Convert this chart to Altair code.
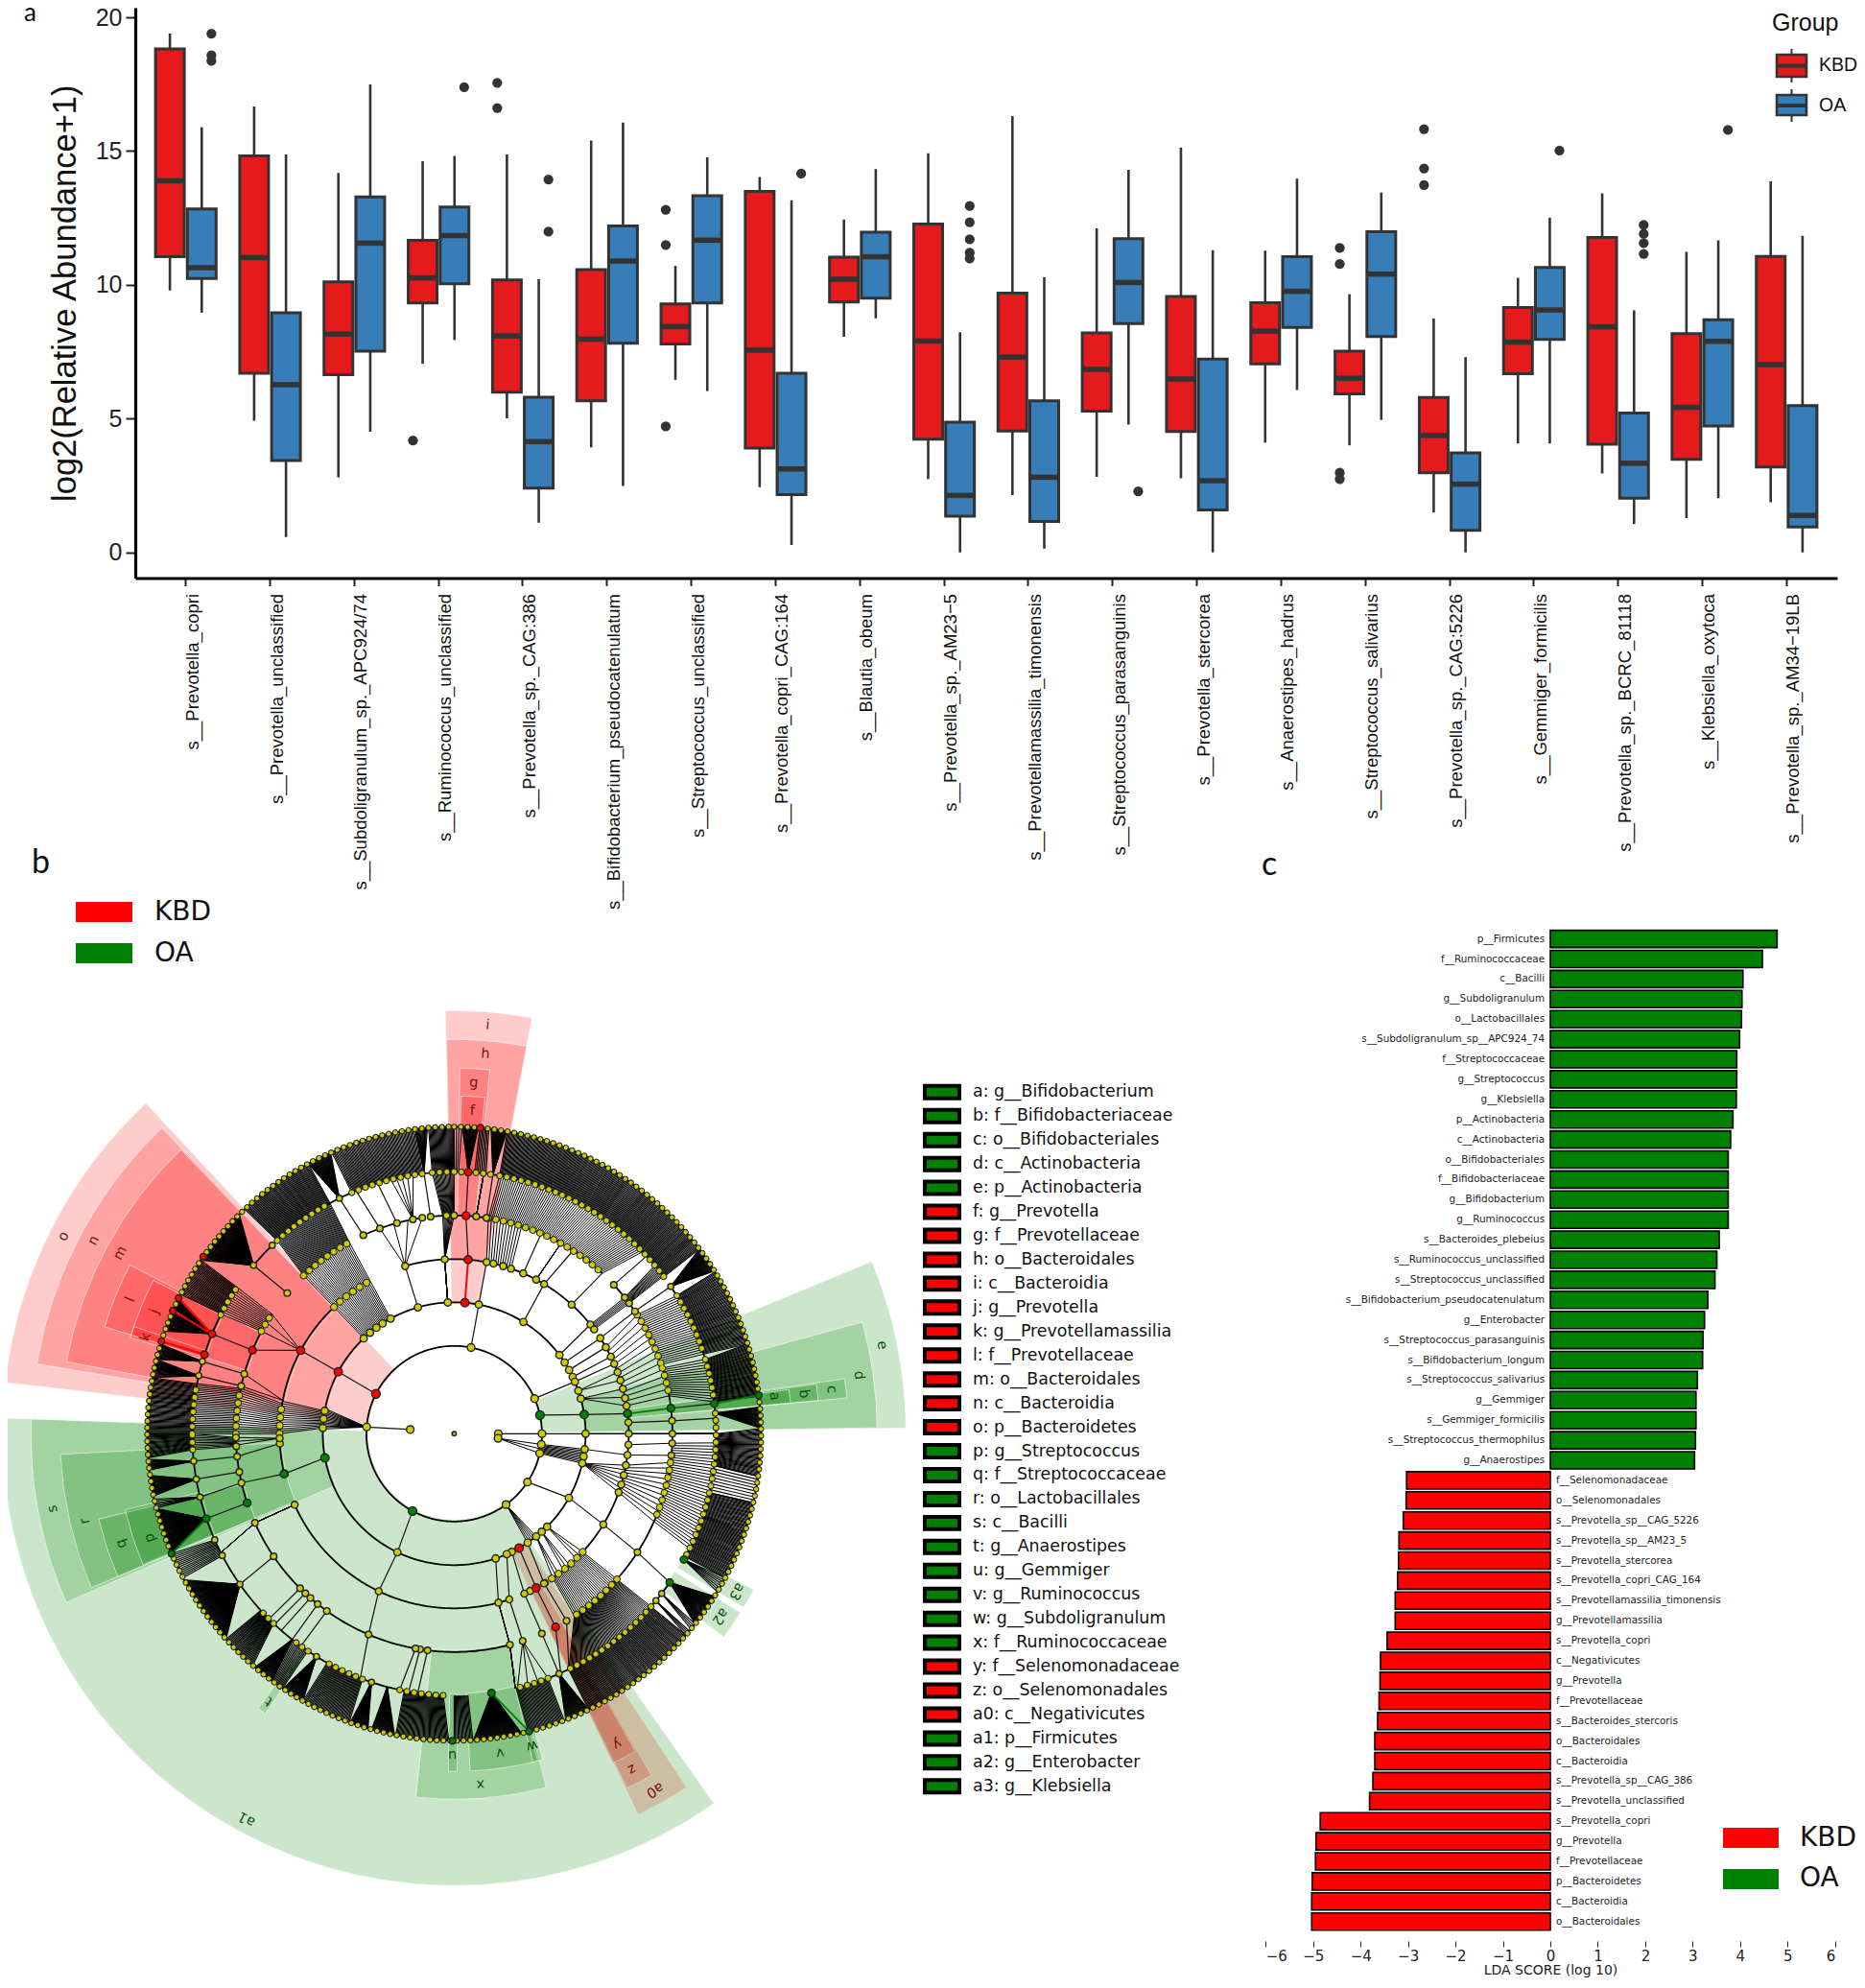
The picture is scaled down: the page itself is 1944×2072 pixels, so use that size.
import math
import altair as alt
import pandas as pd

alt.data_transformers.disable_max_rows()

W, H = 1928, 2056

# ---------- panel a: boxplots ----------
SPECIES = ["s__Prevotella_copri", "s__Prevotella_unclassified", "s__Subdoligranulum_sp._APC924/74",
           "s__Ruminococcus_unclassified", "s__Prevotella_sp._CAG:386", "s__Bifidobacterium_pseudocatenulatum",
           "s__Streptococcus_unclassified", "s__Prevotella_copri_CAG:164", "s__Blautia_obeum",
           "s__Prevotella_sp._AM23\u22125", "s__Prevotellamassilia_timonensis", "s__Streptococcus_parasanguinis",
           "s__Prevotella_stercorea", "s__Anaerostipes_hadrus", "s__Streptococcus_salivarius",
           "s__Prevotella_sp._CAG:5226", "s__Gemmiger_formicilis", "s__Prevotella_sp._BCRC_81118",
           "s__Klebsiella_oxytoca", "s__Prevotella_sp._AM34\u221219LB"]
# each row: low whisker, Q1, median, Q3, high whisker
KBD_BOX = [[9.79, 11.05, 13.89, 18.82, 19.39], [4.92, 6.70, 11.02, 14.82, 16.67], [2.81, 6.64, 8.16, 10.11, 14.18],
           [7.05, 9.32, 10.26, 11.66, 14.62], [5.01, 5.99, 8.09, 10.18, 14.87], [3.93, 5.67, 7.97, 10.57, 15.39],
           [6.45, 7.79, 8.44, 9.29, 10.71], [2.44, 3.90, 7.56, 13.49, 14.03], [8.06, 9.36, 10.21, 11.04, 12.44],
           [2.74, 4.23, 7.90, 12.27, 14.92], [2.14, 4.54, 7.30, 9.69, 16.31], [2.82, 5.28, 6.84, 8.20, 12.11],
           [2.77, 4.52, 6.48, 9.57, 15.13], [4.10, 7.05, 8.27, 9.33, 11.28], [4.00, 5.93, 6.51, 7.52, 9.65],
           [1.49, 2.98, 4.37, 5.79, 8.74], [4.07, 6.68, 7.86, 9.15, 10.26], [2.95, 4.04, 8.43, 11.77, 13.42],
           [1.28, 3.48, 5.42, 8.18, 11.23], [1.87, 3.19, 7.02, 11.06, 13.87]]
OA_BOX = [[8.96, 10.24, 10.64, 12.84, 15.89], [0.57, 3.43, 6.27, 8.96, 14.87], [4.51, 7.52, 11.56, 13.29, 17.49],
          [7.94, 10.04, 11.84, 12.91, 14.82], [1.11, 2.40, 4.14, 5.80, 10.21], [2.48, 7.82, 10.89, 12.20, 16.07],
          [6.03, 9.32, 11.67, 13.33, 14.77], [0.28, 2.16, 3.12, 6.70, 13.16], [8.75, 9.50, 11.05, 11.97, 14.33],
          [0.0, 1.35, 2.13, 4.87, 8.23], [0.14, 1.16, 2.81, 5.67, 10.28], [4.78, 8.55, 10.09, 11.73, 14.30],
          [0.0, 1.59, 2.68, 7.23, 11.30], [6.07, 8.41, 9.76, 11.05, 13.97], [4.95, 8.07, 10.40, 11.99, 13.45],
          [0.0, 0.82, 2.55, 3.72, 7.30], [4.07, 7.96, 9.06, 10.65, 12.51], [1.06, 2.03, 3.33, 5.21, 9.05],
          [2.03, 4.72, 7.89, 8.70, 11.66], [0.0, 0.95, 1.38, 5.49, 11.83]]
KBD_OUT = {3: [4.18], 4: [17.55, 16.61], 6: [12.81, 11.49, 4.71], 14: [11.38, 10.78, 2.98, 2.74], 15: [15.82, 14.35, 13.73]}
OA_OUT = {0: [19.39, 18.58, 18.37], 3: [17.39], 4: [13.94, 11.99], 7: [14.16], 9: [12.95, 12.34, 11.70, 11.2, 10.99],
          11: [2.28], 16: [15.02], 17: [12.24, 11.91, 11.56, 11.16], 18: [15.79]}

# ---------- panel c: LDA bars ----------
LDA_NAMES = ["p__Firmicutes", "f__Ruminococcaceae", "c__Bacilli", "g__Subdoligranulum", "o__Lactobacillales",
             "s__Subdoligranulum_sp__APC924_74", "f__Streptococcaceae", "g__Streptococcus", "g__Klebsiella",
             "p__Actinobacteria", "c__Actinobacteria", "o__Bifidobacteriales", "f__Bifidobacteriaceae",
             "g__Bifidobacterium", "g__Ruminococcus", "s__Bacteroides_plebeius", "s__Ruminococcus_unclassified",
             "s__Streptococcus_unclassified", "s__Bifidobacterium_pseudocatenulatum", "g__Enterobacter",
             "s__Streptococcus_parasanguinis", "s__Bifidobacterium_longum", "s__Streptococcus_salivarius",
             "g__Gemmiger", "s__Gemmiger_formicilis", "s__Streptococcus_thermophilus", "g__Anaerostipes",
             "f__Selenomonadaceae", "o__Selenomonadales", "s__Prevotella_sp__CAG_5226", "s__Prevotella_sp__AM23_5",
             "s__Prevotella_stercorea", "s__Prevotella_copri_CAG_164", "s__Prevotellamassilia_timonensis",
             "g__Prevotellamassilia", "s__Prevotella_copri", "c__Negativicutes", "g__Prevotella", "f__Prevotellaceae",
             "s__Bacteroides_stercoris", "o__Bacteroidales", "c__Bacteroidia", "s__Prevotella_sp__CAG_386",
             "s__Prevotella_unclassified", "s__Prevotella_copri", "g__Prevotella", "f__Prevotellaceae",
             "p__Bacteroidetes", "c__Bacteroidia", "o__Bacteroidales"]
LDA_VALUES = [4.78, 4.47, 4.06, 4.04, 4.03, 3.99, 3.93, 3.93, 3.92, 3.85, 3.80, 3.75, 3.75, 3.75, 3.75, 3.56, 3.51,
              3.47, 3.32, 3.25, 3.22, 3.21, 3.10, 3.07, 3.07, 3.06, 3.04,
              -3.03, -3.04, -3.10, -3.19, -3.20, -3.22, -3.27, -3.27, -3.44, -3.58, -3.59, -3.61, -3.64, -3.70, -3.70,
              -3.74, -3.81, -4.85, -4.94, -4.95, -5.02, -5.03, -5.03]

# ---------- panel b: key ----------
CLADE_KEY = ["a: g__Bifidobacterium", "b: f__Bifidobacteriaceae", "c: o__Bifidobacteriales", "d: c__Actinobacteria",
             "e: p__Actinobacteria", "f: g__Prevotella", "g: f__Prevotellaceae", "h: o__Bacteroidales",
             "i: c__Bacteroidia", "j: g__Prevotella", "k: g__Prevotellamassilia", "l: f__Prevotellaceae",
             "m: o__Bacteroidales", "n: c__Bacteroidia", "o: p__Bacteroidetes", "p: g__Streptococcus",
             "q: f__Streptococcaceae", "r: o__Lactobacillales", "s: c__Bacilli", "t: g__Anaerostipes",
             "u: g__Gemmiger", "v: g__Ruminococcus", "w: g__Subdoligranulum", "x: f__Ruminococcaceae",
             "y: f__Selenomonadaceae", "z: o__Selenomonadales", "a0: c__Negativicutes", "a1: p__Firmicutes",
             "a2: g__Enterobacter", "a3: g__Klebsiella"]
CLADE_GROUP = ["OA"] * 5 + ["KBD"] * 10 + ["OA"] * 9 + ["KBD"] * 3 + ["OA"] * 3

# ---------- panel b: cladogram, read in degrees clockwise from the top ----------
RINGS = [46, 91.5, 137, 182, 227.5, 273, 320]
# label, group, ring of the node, start angle, end angle, outer radius, label radius, label angle
WEDGES = [("o", "KBD", 1, -83.5, -43, 471, 456, -63.2), ("n", "KBD", 2, -80.5, -43.7, 441, 426, -61.8),
          ("i", "KBD", 2, -1.2, 10.6, 441, 427, 4.7), ("a0", "KBD", 2, 146.7, 154.2, 441, 426, 150.6),
          ("m", "KBD", 3, -79.5, -43.9, 411, 395.5, -61.6), ("h", "KBD", 3, -1.1, 10.6, 411, 397, 4.7),
          ("z", "KBD", 3, 150, 154, 411, 395.4, 152.1), ("l", "KBD", 4, -73, -62.5, 381, 365, -67.5),
          ("g", "KBD", 4, 0.9, 5.6, 381, 366, 3.2), ("y", "KBD", 4, 150.3, 154.3, 381, 365, 152.3),
          ("j", "KBD", 5, -73, -63, 352, 337, -67.8), ("k", "KBD", 5, -73.5, -71.5, 352, 337, -72.6),
          ("f", "KBD", 5, 1.2, 5.2, 352, 337, 3.2),
          ("a1", "OA", 1, 144.9, 272, 471, 456, 208.3), ("e", "OA", 1, 67.6, 89.3, 471, 455, 78.3),
          ("s", "OA", 2, -113.5, -88, 441, 425.5, -100.6), ("d", "OA", 2, 74.7, 89.2, 441, 426, 81.8),
          ("r", "OA", 3, -113, -93, 411, 395, -103.3), ("c", "OA", 3, 82, 84.8, 411, 396, 83.3),
          ("q", "OA", 4, -113, -103.5, 381, 365, -108.3), ("b", "OA", 4, 82.2, 84.8, 381, 366.6, 83.5),
          ("x", "OA", 4, 165.4, 186, 381, 366.4, 175.7), ("p", "OA", 5, -112.8, -103, 352, 335, -108.9),
          ("a", "OA", 5, 82.5, 84.8, 352, 336, 83.3), ("u", "OA", 5, 179.5, 181, 352, 335, 180.3),
          ("v", "OA", 5, 165.7, 177.3, 352, 336, 171.8), ("w", "OA", 5, 164.8, 166.5, 352, 335, 166),
          ("t", "OA", 5, 214, 215.5, 352, 339, 214.7), ("a2", "OA", 5, 122, 127, 352, 336, 124.5),
          ("a3", "OA", 5, 117.5, 121, 352, 337, 119.2)]

# ring arcs: ring, start, end
ARCS = [(1, 0, 360), (2, 0, 360), (3, -90, -43.5), (3, -16.3, 53.3), (3, 56.8, 146), (3, 161.6, 246), (3, 256.7, 270),
        (4, -90, -56.7), (4, -24.6, -8.4), (4, -6.2, 42.7), (4, 47, 71.5), (4, 72.5, 146.6), (4, 165.2, 246),
        (4, 251.5, 270), (5, -90, -56), (5, -50, -44), (5, -42.5, 53.3), (5, 55.8, 118.7), (5, 124.6, 166.3),
        (5, 182.4, 270), (6, 0, 360)]
# runs of packed nodes: ring, start, end
NODE_RUNS = [(3, -90, -79.3), (3, -43.5, -28.8), (3, 132.6, 149), (4, -90, -78), (4, -62, -56.7), (4, -43.6, -28.7),
             (4, 9, 42.7), (4, 57, 71.5), (4, 72.5, 80), (4, 97.6, 113.7), (4, 131.8, 146.6), (5, -90, -79),
             (5, -63, -56), (5, -42.5, -28.3), (5, -23, -6.6), (5, -4.8, 8), (5, 10, 53.3), (5, 58.2, 72.3),
             (5, 73.5, 83), (5, 85.5, 118), (5, 131.3, 154.1), (5, 159, 166.3), (5, 182.4, 193), (5, 200.5, 209),
             (5, 213.9, 218.2), (5, 223.6, 227.6), (5, 266.5, 270), (6, 0, 360)]
# single nodes: ring -> angles
NODES_Y = {0: [-84.5, 90, 96],
           1: [11.1, 66.4, 123.4, 143.8, 274.4, 90, 97, 102.9],
           2: [-80, -83.5, -87.5, -43.5, -39.8, -36.3, -33, -28.9, -16, -2.8, 10.8, 31.8, 53.2, 57.2, 61, 64.4, 66.7,
               70.9, 74.5, 90, 96.8, 100, 103, 119.2, 135, 138.2, 141.4, 146, 154, 156.4, 161.6, 205.6],
           3: [-16.3, -3.1, 10.7, 13, 16.3, 19, 23.3, 28, 31, 42.3, 51.3, 53.3, 56.8, 60.3, 63.8, 66.4, 69.4, 72.2,
               75.1, 78.2, 80.8, 86.3, 90, 93.6, 97, 100.4, 103.7, 106.9, 109.6, 121.3, 149, 154.2, 156.3, 161.6,
               165.3, 205.6, 246, 266.8, 268.5],
           4: [-74.1, -77.4, -49.9, -24.6, -19.9, -15.2, -10.9, -8.4, -6.2, -2, 0, 5.8, 8.5, 47, 51.4, 53.3, 55.9,
               86.6, 90, 92.5, 95.7, 122.9, 149, 156.3, 161.7, 165.2, 187, 189, 190.2, 203.1, 215.7, 218.7, 221.2,
               223, 224.9, 235.8, 245.9, 257, 259.9, 264, 266.7, 269],
           5: [-74, -77.2, -50, -44, -26, 55.8, 127.6, 129.6, 156.4, 198.4, 211.7, 234.9, 242.3, 246.1, 256, 260, 264]}
NODES_G = {1: [77.8, 208.3], 2: [81.6, 259.4], 3: [83.4, 256.7], 4: [83.3, 251.5],
           5: [83.4, 118.7, 124.6, 171.8, 251.1], 6: [82.8, 165.9, 180.3, 247]}
NODES_R = {1: [297], 2: [-61.9, 4.7, 150.4], 3: [-61.5, 4.6, 152], 4: [-67.5, 3.1, 152.3],
           5: [-67.6, -72.4, 3.1], 6: [-54.8, -63.8, -66.4, -72.5, 4.9]}

# branches: from ring, from start, from end, to ring, to start, to end, lines
BRANCHES = [
    (0, -84.5, -84.5, 1, -85.6, -85.6, 1), (0, 90, 90, 1, 90, 90, 1), (0, 96, 96, 1, 97, 102.9, 3),
    (1, -63, -63, 2, -61.9, -61.9, 1), (1, -85.6, -85.6, 2, -79, -88, 14), (1, 11.1, 11.1, 2, 10.8, 10.8, 1),
    (1, 66.4, 66.4, 2, 66.7, 66.7, 1), (1, 77.8, 77.8, 2, 81.6, 81.6, 1), (1, 90, 90, 2, 90, 90, 1),
    (1, 97, 102.9, 2, 96.8, 103, 10), (1, 123.4, 123.4, 2, 119.2, 119.2, 1), (1, 143.8, 143.8, 2, 141.4, 146, 6),
    (1, 208.3, 208.3, 2, 205.6, 205.6, 1),
    (2, -61.9, -61.9, 3, -61.5, -61.5, 1), (2, -80, -87.5, 3, -79.3, -90, 15), (2, -43.5, -28.9, 3, -43.5, -28.8, 25),
    (2, -16, -16, 3, -16.3, -16.3, 1), (2, -2.8, -2.8, 3, -3.1, -3.1, 8), (2, 10.8, 10.8, 3, 10.7, 10.7, 1),
    (2, 31.8, 31.8, 3, 31, 31, 1), (2, 53.2, 53.2, 3, 51.3, 51.3, 1), (2, 57.2, 57.2, 3, 56.8, 56.8, 1),
    (2, 61, 61, 3, 60.3, 60.3, 1), (2, 64.4, 64.4, 3, 63.8, 63.8, 1), (2, 66.7, 66.7, 3, 66.4, 66.4, 1),
    (2, 70.9, 70.9, 3, 69.4, 72.2, 2), (2, 74.5, 74.5, 3, 75.1, 80.8, 3), (2, 81.6, 81.6, 3, 83.4, 83.4, 1),
    (2, 90, 90, 3, 90, 90, 3), (2, 96.8, 96.8, 3, 97, 97, 1), (2, 103, 103, 3, 100.4, 109.6, 7),
    (2, 119.2, 119.2, 3, 121.3, 121.3, 1), (2, 135, 135, 3, 132.6, 135.7, 3), (2, 138.2, 138.2, 3, 138.7, 141.3, 3),
    (2, 141.4, 141.4, 3, 143.3, 145.6, 3), (2, 146, 146, 3, 149, 149, 1), (2, 150.4, 150.4, 3, 152, 152, 1),
    (2, 154, 154, 3, 156.3, 156.3, 1), (2, 156.4, 156.4, 3, 161.6, 161.6, 1), (2, 161.6, 161.6, 3, 165.3, 165.3, 1),
    (2, 205.6, 205.6, 3, 205.6, 205.6, 1), (2, 259.4, 259.4, 3, 256.7, 256.7, 1),
    (3, -61.5, -61.5, 4, -67.5, -67.5, 1), (3, -61.5, -61.5, 4, -62, -56.7, 3), (3, -80, -90, 4, -78, -90, 20),
    (3, -79, -79, 4, -74.1, -77.4, 2), (3, -43.5, -28.8, 4, -43.6, -28.7, 30), (3, -16.3, -16.3, 4, -19.9, -8.4, 4),
    (3, -3.1, -3.1, 4, -3, 0, 10), (3, 4.6, 4.6, 4, 3.1, 3.1, 1), (3, 10.7, 19, 4, 9, 18, 12),
    (3, 23.3, 23.3, 4, 23.5, 23.5, 1), (3, 28, 28, 4, 29.3, 29.3, 6), (3, 31, 31, 4, 33, 33, 1),
    (3, 42.3, 42.3, 4, 42.7, 42.7, 1), (3, 51.3, 53.3, 4, 51.4, 53.3, 6), (3, 56.8, 56.8, 4, 55.9, 55.9, 1),
    (3, 60.3, 80.8, 4, 57, 80, 14), (3, 86.3, 86.3, 4, 86.6, 86.6, 1), (3, 90, 90, 4, 90, 90, 4),
    (3, 93.6, 97, 4, 92.5, 95.7, 2), (3, 100.4, 109.6, 4, 97.6, 113.7, 12), (3, 121.3, 121.3, 4, 122.9, 122.9, 1),
    (3, 132.6, 145.6, 4, 131.8, 146.6, 28), (3, 149, 149, 4, 149, 149, 1), (3, 152, 152, 4, 152.3, 152.3, 1),
    (3, 156.3, 156.3, 4, 156.3, 156.3, 1), (3, 161.6, 161.6, 4, 161.7, 161.7, 1), (3, 165.3, 165.3, 4, 165.2, 165.2, 5),
    (3, 205.6, 205.6, 4, 203.1, 203.1, 1), (3, 246, 246, 4, 245.9, 245.9, 6), (3, 256.7, 256.7, 4, 257, 257, 1),
    (3, 266.8, 266.8, 4, 264, 264, 1), (3, 268.5, 268.5, 4, 267, 269, 3),
    (4, -67.5, -67.5, 5, -67.6, -67.6, 1), (4, -74.1, -74.1, 5, -74, -74, 1), (4, -77.4, -77.4, 5, -77.2, -77.2, 1),
    (4, -78, -90, 5, -79, -90, 30), (4, -62, -56.7, 5, -62.8, -56, 14), (4, -49.9, -49.9, 5, -50, -50, 1),
    (4, -43.6, -28.7, 5, -42.5, -28.3, 62), (4, -24.6, -24.6, 5, -26, -26, 1), (4, -19.9, -19.9, 5, -22, -22, 1),
    (4, -15.2, -15.2, 5, -17, -17, 1), (4, -10.9, -10.9, 5, -14, -9, 5), (4, -6.2, -6.2, 5, -6.6, -6.6, 1),
    (4, -3, 0, 5, -4.8, 0, 18), (4, 3.1, 3.1, 5, 3.1, 3.1, 1), (4, 5.8, 5.8, 5, 6.5, 6.5, 8), (4, 8.5, 8.5, 5, 8.5, 8.5, 1),
    (4, 9, 42.7, 5, 10, 46, 75), (4, 47, 47, 5, 47.3, 47.3, 1), (4, 51.4, 53.3, 5, 50, 53, 12),
    (4, 55.9, 55.9, 5, 55.8, 55.8, 1), (4, 57, 71.5, 5, 58.2, 72.3, 28), (4, 72.5, 80, 5, 73.5, 83, 16),
    (4, 83.3, 83.3, 5, 83.4, 83.4, 1), (4, 86.6, 86.6, 5, 86.6, 86.6, 1), (4, 90, 90, 5, 90, 90, 8),
    (4, 92.5, 113.7, 5, 92, 116, 35), (4, 122.9, 122.9, 5, 124.6, 124.6, 1), (4, 131.8, 146.6, 5, 131.3, 154, 70),
    (4, 149, 149, 5, 154, 154, 1), (4, 152.3, 152.3, 5, 156, 156, 1), (4, 156.3, 156.3, 5, 156.4, 156.4, 1),
    (4, 161.7, 161.7, 5, 159, 166, 4), (4, 165.2, 165.2, 5, 166.5, 166.5, 8), (4, 187, 187, 5, 188, 188, 1),
    (4, 189, 189, 5, 190, 190, 1), (4, 190.2, 190.2, 5, 192, 192, 1), (4, 203.1, 203.1, 5, 201, 201, 1),
    (4, 215.7, 215.7, 5, 215.8, 215.8, 1), (4, 218.7, 218.7, 5, 218.2, 218.2, 1), (4, 221.2, 221.2, 5, 221.3, 221.3, 1),
    (4, 223, 223, 5, 223.3, 223.3, 1), (4, 224.9, 224.9, 5, 225, 225, 1), (4, 235.8, 235.8, 5, 234.9, 234.9, 1),
    (4, 245.9, 245.9, 5, 243, 243, 6), (4, 251.5, 251.5, 5, 251.1, 251.1, 1), (4, 257, 257, 5, 256, 256, 1),
    (4, 259.9, 259.9, 5, 260, 260, 1), (4, 264, 264, 5, 264, 264, 1), (4, 266.7, 269, 5, 266.5, 270, 10),
    (5, -50, -50, 6, -55.6, -44.4, 70), (5, -62.8, -56, 6, -63, -55.6, 30), (5, -67.6, -67.6, 6, -64, -66, 18),
    (5, -67.6, -67.6, 6, -66.7, -70.5, 22), (5, -74, -74, 6, -73, -76, 18), (5, -77.2, -77.2, 6, -76, -79.5, 20),
    (5, -79, -90, 6, -79.5, -90, 50), (5, -42.5, -28.3, 6, -43, -28.4, 70), (5, -26, -26, 6, -28.4, -23.7, 30),
    (5, -23, -7, 6, -23.5, -7.3, 65), (5, -6.6, -6.6, 6, -7.3, -5, 14), (5, -4.8, 0, 6, -4.8, 0, 25),
    (5, 0, 1, 6, 0, 1.4, 4), (5, 3.1, 3.1, 6, 1.5, 4.5, 20), (5, 4.5, 7, 6, 4.8, 6.5, 8), (5, 8.5, 8.5, 6, 6.9, 9.9, 20),
    (5, 10, 53.2, 6, 10, 53, 190), (5, 55.8, 55.8, 6, 53, 58, 35), (5, 58.2, 72.3, 6, 58.2, 73, 65),
    (5, 73.5, 83, 6, 73, 83, 50), (5, 85.5, 85.5, 6, 85, 89, 25), (5, 90, 97, 6, 89, 98, 40), (5, 97, 103, 6, 98, 103, 10),
    (5, 103, 118, 6, 103, 118, 70), (5, 118.7, 118.7, 6, 118, 121, 8), (5, 124.6, 124.6, 6, 122, 128.3, 40),
    (5, 127.6, 127.6, 6, 128.3, 129.5, 4), (5, 129.6, 129.6, 6, 130, 131, 4), (5, 131.3, 154.1, 6, 131, 154, 100),
    (5, 156.4, 156.4, 6, 154, 158.7, 30), (5, 159, 166.3, 6, 159, 166, 30), (5, 171.8, 171.8, 6, 167.3, 176.4, 60),
    (5, 177, 180, 6, 176.5, 180, 15), (5, 182.4, 191, 6, 181, 191, 45), (5, 194.8, 194.8, 6, 191.2, 195.6, 30),
    (5, 198.4, 198.4, 6, 196.3, 199.8, 25), (5, 200.5, 209, 6, 200, 209.5, 40), (5, 211.7, 211.7, 6, 209.5, 213.9, 30),
    (5, 214, 218, 6, 214, 216.4, 12), (5, 218.2, 218.2, 6, 216.4, 220.5, 28), (5, 223.6, 227.6, 6, 221, 228, 30),
    (5, 234.9, 234.9, 6, 228, 241.6, 90), (5, 242.3, 246.1, 6, 242, 247, 15), (5, 251.1, 251.1, 6, 247, 255.9, 60),
    (5, 256, 256, 6, 256, 257.7, 6), (5, 260, 260, 6, 258.3, 262.2, 25), (5, 264, 264, 6, 263.2, 265.2, 14),
    (5, 266.5, 270, 6, 265.5, 270, 22)]
RED_BRANCHES = [(2, 4.7, 3, 4.6), (5, -67.6, 6, -63.8), (5, -67.6, 6, -66.4), (5, -72.4, 6, -72.5)]
GREEN_BRANCHES = [(3, 83.4, 4, 83.3), (5, 83.4, 6, 82.8), (5, 251.1, 6, 247), (5, 171.8, 6, 165.9)]

COL = {"KBD": "#FF0000", "OA": "#008000"}
DARK = {"KBD": "#7a0d0d", "OA": "#0c4f0c"}
BOX_COL = {"KBD": "#E41A1C", "OA": "#377EB8"}
INK = "#333333"
YELLOW = "#CCCC00"

def qs(dom, rng):
    return alt.Scale(domain=dom, range=rng, nice=False, zero=False)

# page coordinates, used for keys and panel letters
PX = qs([8, 8 + W], [0, W])
PY = qs([8, 8 + H], [0, H])
# cladogram scales: pixels around the centre, y downward
CXP, CYP = 473.4 - 8, 1494.3 - 8
CX = qs([-500, 500], [CXP - 500, CXP + 500])
CY = qs([-500, 500], [CYP - 500, CYP + 500])

def polar(ang, r):
    t = math.radians(ang)
    return r * math.sin(t), -r * math.cos(t)

layers = []

# ---- panel a ----
AX = alt.Scale(domain=SPECIES, range=[133, 1907], paddingInner=0, paddingOuter=0.1)
AY = qs([-0.96, 20.36], [594.5, 0])
OFF = alt.Scale(domain=["KBD", "OA"], paddingInner=0, paddingOuter=0.323)
rows, outs = [], []
for g, box, out in (("KBD", KBD_BOX, KBD_OUT), ("OA", OA_BOX, OA_OUT)):
    for i, b in enumerate(box):
        rows.append(dict(sp=SPECIES[i], g=g, lo=b[0], q1=b[1], med=b[2], q3=b[3], hi=b[4], c=BOX_COL[g]))
    for i, vs in out.items():
        for v in vs:
            outs.append(dict(sp=SPECIES[i], g=g, v=v))
adf, odf = pd.DataFrame(rows), pd.DataFrame(outs)
x_a_axis = alt.Axis(orient="bottom", offset=-(H - 594.5), title=None, labelAngle=-90, labelFontSize=18.5,
                    labelFont="Liberation Sans", labelColor="#111", labelLimit=500, labelOverlap=False,
                    labelPadding=8, labelOffset=7, domainColor="black", domainWidth=3.2, tickColor="#222",
                    tickWidth=2, tickSize=8, grid=False)
y_a_axis = alt.Axis(orient="left", offset=-133, values=[0, 5, 10, 15, 20], title="log2(Relative Abundance+1)",
                    titleFont="Liberation Sans", titleFontSize=34.5, titleFontWeight="normal", titleColor="#111",
                    titlePadding=14, labelFont="Liberation Sans", labelFontSize=25, labelColor="#222", labelPadding=4,
                    domainColor="black", domainWidth=3.2, tickColor="#222", tickWidth=2, tickSize=10, grid=False)
ax_none = alt.X("sp:N", scale=AX, sort=SPECIES, axis=None)
xo = alt.XOffset("g:N", scale=OFF)
layers.append(alt.Chart(adf).mark_rule(color=INK, strokeWidth=2.6).encode(
    x=alt.X("sp:N", scale=AX, sort=SPECIES, axis=x_a_axis), xOffset=xo,
    y=alt.Y("lo:Q", scale=AY, axis=y_a_axis), y2="hi:Q"))
layers.append(alt.Chart(adf).mark_bar(size=30, stroke=INK, strokeWidth=3).encode(
    x=ax_none, xOffset=xo, y=alt.Y("q1:Q", scale=AY, axis=None), y2="q3:Q", color=alt.Color("c:N", scale=None)))
layers.append(alt.Chart(adf).mark_tick(size=31, thickness=5.5, color=INK, opacity=1).encode(
    x=ax_none, xOffset=xo, y=alt.Y("med:Q", scale=AY, axis=None)))
layers.append(alt.Chart(odf).mark_circle(size=105, color=INK, opacity=1).encode(
    x=ax_none, xOffset=xo, y=alt.Y("v:Q", scale=AY, axis=None)))

# ---- panel c ----
CB_X = qs([-6, 6], [1319.3 - 8, 1912.7 - 8])
CB_Y = alt.Scale(domain=list(range(50)), range=[960.15, 2005.15], paddingInner=0.14, paddingOuter=0.07)
ldf = pd.DataFrame(dict(row=range(50), name=LDA_NAMES, v=LDA_VALUES,
                        zero=[0] * 50, c=[COL["OA"] if v > 0 else COL["KBD"] for v in LDA_VALUES]))
layers.append(alt.Chart(ldf).mark_bar(stroke="black", strokeWidth=1.6).encode(
    x=alt.X("v:Q", scale=CB_X, axis=alt.Axis(
        orient="bottom", offset=-(H - 2015), values=list(range(-6, 7)), domain=False, grid=False, tickColor="#222",
        tickSize=6, tickWidth=1, labelFont="DejaVu Sans", labelFontSize=15, labelColor="#222", labelPadding=2,
        format="d", title="LDA SCORE (log 10)", titleFont="DejaVu Sans", titleFontSize=14,
        titleFontWeight="normal", titleColor="#222", titlePadding=0)),
    x2="zero:Q", y=alt.Y("row:O", scale=CB_Y, axis=None), color=alt.Color("c:N", scale=None)))
ldf["tx"] = [-0.12 if v > 0 else 0.12 for v in LDA_VALUES]
for sign, al in ((1, "right"), (-1, "left")):
    layers.append(alt.Chart(ldf[ldf.v * sign > 0]).mark_text(
        align=al, baseline="middle", font="DejaVu Sans", fontSize=10.4, color="#222").encode(
        x=alt.X("tx:Q", scale=CB_X, axis=None), y=alt.Y("row:O", scale=CB_Y, axis=None), text="name:N"))

# ---- panel b: wedges ----
wd = []
for (lab, g, ring, a0, a1, rout, rl, al) in WEDGES:
    wd.append(dict(t=math.radians(a0), t2=math.radians(a1), r=rout, r2=RINGS[ring] - 2, c=COL[g]))
wdf = pd.DataFrame(wd)
layers.append(alt.Chart(wdf).mark_arc(fillOpacity=0.2, stroke="white", strokeOpacity=0.55, strokeWidth=1).encode(
    x=alt.X(datum=0, scale=CX, axis=None), y=alt.Y(datum=0, scale=CY, axis=None),
    theta=alt.Theta("t:Q", scale=None), theta2="t2:Q",
    radius=alt.Radius("r:Q", scale=None), radius2="r2:Q", color=alt.Color("c:N", scale=None)))

# ---- panel b: tree ----
def branch_rows(rec):
    f, a0, a1, t, b0, b1, n = rec
    for k in range(n):
        u = k / (n - 1) if n > 1 else 0
        x1, y1 = polar(a0 + (a1 - a0) * u, RINGS[f])
        x2, y2 = polar(b0 + (b1 - b0) * u, RINGS[t])
        yield dict(x1=x1, y1=y1, x2=x2, y2=y2)

def rule_layer(recs, **mk):
    df = pd.DataFrame(recs)
    return alt.Chart(df).mark_rule(**mk).encode(
        x=alt.X("x1:Q", scale=CX, axis=None), y=alt.Y("y1:Q", scale=CY, axis=None), x2="x2:Q", y2="y2:Q")

outer_fans = [r for b in BRANCHES if b[6] > 1 and b[3] == 6 for r in branch_rows(b)]
inner_fans = [r for b in BRANCHES if b[6] > 1 and b[3] < 6 for r in branch_rows(b)]
singles = [r for b in BRANCHES if b[6] == 1 for r in branch_rows(b)]
layers.append(rule_layer(outer_fans, color="black", strokeWidth=1.1))
layers.append(rule_layer(inner_fans, color="black", strokeWidth=1.0))
layers.append(rule_layer(singles, color="#111", strokeWidth=1.2))

def coloured(lst):
    return [r for (f, a, t, b) in lst for r in branch_rows((f, a, a, t, b, b, 1))]

layers.append(rule_layer(coloured(RED_BRANCHES), color="#FF0000", strokeWidth=2))
layers.append(rule_layer(coloured(GREEN_BRANCHES), color="#008000", strokeWidth=1.8))

def arc_points(items):
    pts = []
    for i, (ring, a0, a1) in enumerate(items):
        steps = max(2, int(abs(a1 - a0) * 1.5))
        for k in range(steps + 1):
            x, y = polar(a0 + (a1 - a0) * k / steps, RINGS[ring])
            pts.append(dict(id=i, o=k, x=x, y=y))
    return pd.DataFrame(pts)

def line_layer(df, **mk):
    return alt.Chart(df).mark_line(**mk).encode(
        x=alt.X("x:Q", scale=CX, axis=None), y=alt.Y("y:Q", scale=CY, axis=None),
        detail="id:N", order="o:Q")

layers.append(line_layer(arc_points(ARCS), color="black", strokeWidth=1.8))
for ring, gap, w in ((3, 8.5, 8), (4, 8, 7.6), (5, 7.6, 7), (6, 7, 6.2)):
    runs = arc_points([r for r in NODE_RUNS if r[0] == ring])
    layers.append(line_layer(runs, color="#222", strokeWidth=w, strokeDash=[0.01, gap], strokeCap="round"))
    layers.append(line_layer(runs, color=YELLOW, strokeWidth=w - 2, strokeDash=[0.01, gap], strokeCap="round"))

SIZES = {0: 62, 1: 62, 2: 56, 3: 52, 4: 46, 5: 40, 6: 30}
nd = []
for tbl, c, bump in ((NODES_Y, YELLOW, 0), (NODES_G, COL["OA"], 18), (NODES_R, COL["KBD"], 18)):
    for ring, angs in tbl.items():
        for a in angs:
            x, y = polar(a, RINGS[ring])
            nd.append(dict(x=x, y=y, c=c, s=SIZES[ring] + bump))
nd.append(dict(x=0, y=0, c="#B8B800", s=20))
ndf = pd.DataFrame(nd)
layers.append(alt.Chart(ndf).mark_point(filled=True, shape="circle", stroke="#222", strokeWidth=1.4, opacity=1).encode(
    x=alt.X("x:Q", scale=CX, axis=None), y=alt.Y("y:Q", scale=CY, axis=None),
    color=alt.Color("c:N", scale=None), size=alt.Size("s:Q", scale=None)))

lb = []
for (lab, g, ring, a0, a1, rout, rl, al) in WEDGES:
    x, y = polar(al, rl)
    lb.append(dict(x=x, y=y, t=lab, a=al % 360, c=DARK[g]))
layers.append(alt.Chart(pd.DataFrame(lb)).mark_text(font="DejaVu Sans", fontSize=14.5, align="center", baseline="middle").encode(
    x=alt.X("x:Q", scale=CX, axis=None), y=alt.Y("y:Q", scale=CY, axis=None), text="t:N",
    angle=alt.Angle("a:Q", scale=None), color=alt.Color("c:N", scale=None)))

# ---- panel b: clade key ----
KY = alt.Scale(domain=list(range(30)), range=[1138.3 - 12.475 - 8, 1861.8 + 12.475 - 8], paddingInner=0.48, paddingOuter=0.24)
kdf = pd.DataFrame(dict(row=range(30), t=CLADE_KEY, c=[COL[g] for g in CLADE_GROUP], x0=[964] * 30, x1=[1000] * 30, tx=[1014] * 30))
layers.append(alt.Chart(kdf).mark_bar(stroke="black", strokeWidth=4).encode(
    x=alt.X("x0:Q", scale=PX, axis=None), x2="x1:Q", y=alt.Y("row:O", scale=KY, axis=None), color=alt.Color("c:N", scale=None)))
layers.append(alt.Chart(kdf).mark_text(align="left", baseline="middle", font="DejaVu Sans", fontSize=17.4, color="#111").encode(
    x=alt.X("tx:Q", scale=PX, axis=None), y=alt.Y("row:O", scale=KY, axis=None), text="t:N"))

# ---- keys and panel letters ----
RECTS = [(79, 138, 940, 961, COL["KBD"]), (79, 138, 983, 1004, COL["OA"]),
         (1796, 1854, 1905, 1926, COL["KBD"]), (1796, 1854, 1948, 1969, COL["OA"])]
rdf = pd.DataFrame(RECTS, columns=["x", "x2", "y", "y2", "c"])
layers.append(alt.Chart(rdf).mark_rect().encode(
    x=alt.X("x:Q", scale=PX, axis=None), x2="x2:Q", y=alt.Y("y:Q", scale=PY, axis=None), y2="y2:Q", color=alt.Color("c:N", scale=None)))
TEXTS = [("KBD", 161, 951, 28, "DejaVu Sans"), ("OA", 161, 994, 28, "DejaVu Sans"),
         ("KBD", 1876, 1916, 28, "DejaVu Sans"), ("OA", 1876, 1958, 28, "DejaVu Sans"),
         ("Group", 1847, 24, 25, "Liberation Sans"), ("KBD", 1896, 68, 19.5, "Liberation Sans"),
         ("OA", 1896, 110, 19.5, "Liberation Sans"), ("a", 25, 14, 26, "Lato"), ("b", 33, 900, 34, "Lato"),
         ("c", 1315, 902, 34, "Lato")]
for font, size in sorted({(t[4], t[3]) for t in TEXTS}):
    sub = pd.DataFrame([t[:3] for t in TEXTS if t[4] == font and t[3] == size], columns=["t", "x", "y"])
    layers.append(alt.Chart(sub).mark_text(align="left", baseline="middle", font=font, fontSize=size, color="#111").encode(
        x=alt.X("x:Q", scale=PX, axis=None), y=alt.Y("y:Q", scale=PY, axis=None), text="t:N"))

# box-plot key
KEY_WHISK = pd.DataFrame(dict(x=[1867.5, 1867.5], y=[51, 93], y2=[86, 127]))
KEY_BOX = pd.DataFrame(dict(x=[1852, 1852], x2=[1883, 1883], y=[57, 99], y2=[80, 120], c=[BOX_COL["KBD"], BOX_COL["OA"]]))
KEY_MED = pd.DataFrame(dict(x=[1852, 1852], x2=[1883, 1883], y=[68.5, 110]))
layers.append(alt.Chart(KEY_WHISK).mark_rule(color=INK, strokeWidth=2).encode(
    x=alt.X("x:Q", scale=PX, axis=None), y=alt.Y("y:Q", scale=PY, axis=None), y2="y2:Q"))
layers.append(alt.Chart(KEY_BOX).mark_rect(stroke=INK, strokeWidth=2.6).encode(
    x=alt.X("x:Q", scale=PX, axis=None), x2="x2:Q", y=alt.Y("y:Q", scale=PY, axis=None), y2="y2:Q", color=alt.Color("c:N", scale=None)))
layers.append(alt.Chart(KEY_MED).mark_rule(color=INK, strokeWidth=4).encode(
    x=alt.X("x:Q", scale=PX, axis=None), x2="x2:Q", y=alt.Y("y:Q", scale=PY, axis=None)))

chart = alt.layer(*layers).resolve_scale(
    x="independent", y="independent", color="independent", theta="independent", radius="independent",
    xOffset="independent", size="independent", angle="independent"
).resolve_axis(x="independent", y="independent").properties(
    width=W, height=H, padding=0, autosize=alt.AutoSizeParams(type="none"), background="white"
).configure_view(stroke=None)

chart.save("out.html", embed_options={"renderer": "svg", "actions": False})
